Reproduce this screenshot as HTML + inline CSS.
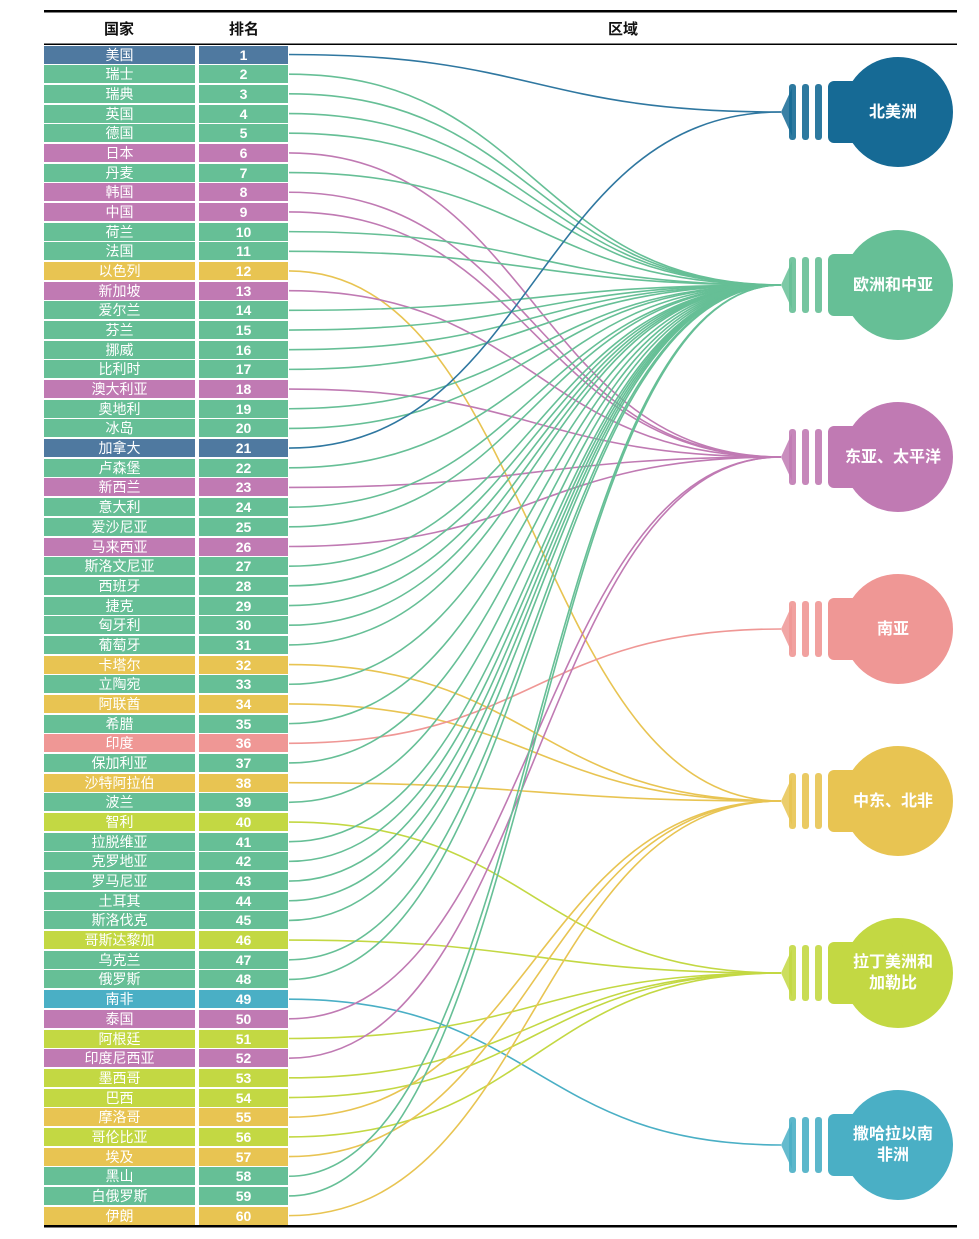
<!DOCTYPE html>
<html><head><meta charset="utf-8"><style>
body{margin:0;width:979px;height:1239px;background:#fff;position:relative;overflow:hidden;font-family:"Liberation Sans","Noto Sans CJK SC",sans-serif}
.h{position:absolute;top:18px;font-size:15px;font-weight:bold;color:#111}
.r{position:absolute;height:18px;line-height:18px;color:#fff;font-size:14px;text-align:center}
#ranks .r{font-weight:bold}
.lb{position:absolute;left:843px;width:100px;text-align:center;color:#fff;font-weight:bold;font-size:16px;line-height:21px}
svg{position:absolute;left:0;top:0}
</style></head><body>
<svg width="979" height="1239" id="s">
<rect x="44" y="10" width="913" height="2.5" fill="#000"/>
<rect x="44" y="43.5" width="913" height="1.5" fill="#000"/>
<rect x="44" y="1225" width="913" height="2.5" fill="#000"/>
<g id="links" fill="none" stroke-width="1.6"></g>
<g id="bulbs"></g>
</svg>
<div class="h" style="left:104px">国家</div>
<div class="h" style="left:229px">排名</div>
<div class="h" style="left:608px">区域</div>
<div id="rows">
<div class="r">美国</div><div class="r">瑞士</div><div class="r">瑞典</div><div class="r">英国</div><div class="r">德国</div>
<div class="r">日本</div><div class="r">丹麦</div><div class="r">韩国</div><div class="r">中国</div><div class="r">荷兰</div>
<div class="r">法国</div><div class="r">以色列</div><div class="r">新加坡</div><div class="r">爱尔兰</div><div class="r">芬兰</div>
<div class="r">挪威</div><div class="r">比利时</div><div class="r">澳大利亚</div><div class="r">奥地利</div><div class="r">冰岛</div>
<div class="r">加拿大</div><div class="r">卢森堡</div><div class="r">新西兰</div><div class="r">意大利</div><div class="r">爱沙尼亚</div>
<div class="r">马来西亚</div><div class="r">斯洛文尼亚</div><div class="r">西班牙</div><div class="r">捷克</div><div class="r">匈牙利</div>
<div class="r">葡萄牙</div><div class="r">卡塔尔</div><div class="r">立陶宛</div><div class="r">阿联酋</div><div class="r">希腊</div>
<div class="r">印度</div><div class="r">保加利亚</div><div class="r">沙特阿拉伯</div><div class="r">波兰</div><div class="r">智利</div>
<div class="r">拉脱维亚</div><div class="r">克罗地亚</div><div class="r">罗马尼亚</div><div class="r">土耳其</div><div class="r">斯洛伐克</div>
<div class="r">哥斯达黎加</div><div class="r">乌克兰</div><div class="r">俄罗斯</div><div class="r">南非</div><div class="r">泰国</div>
<div class="r">阿根廷</div><div class="r">印度尼西亚</div><div class="r">墨西哥</div><div class="r">巴西</div><div class="r">摩洛哥</div>
<div class="r">哥伦比亚</div><div class="r">埃及</div><div class="r">黑山</div><div class="r">白俄罗斯</div><div class="r">伊朗</div>
</div>
<div id="ranks">
<div class="r">1</div><div class="r">2</div><div class="r">3</div><div class="r">4</div><div class="r">5</div><div class="r">6</div><div class="r">7</div><div class="r">8</div><div class="r">9</div><div class="r">10</div>
<div class="r">11</div><div class="r">12</div><div class="r">13</div><div class="r">14</div><div class="r">15</div><div class="r">16</div><div class="r">17</div><div class="r">18</div><div class="r">19</div><div class="r">20</div>
<div class="r">21</div><div class="r">22</div><div class="r">23</div><div class="r">24</div><div class="r">25</div><div class="r">26</div><div class="r">27</div><div class="r">28</div><div class="r">29</div><div class="r">30</div>
<div class="r">31</div><div class="r">32</div><div class="r">33</div><div class="r">34</div><div class="r">35</div><div class="r">36</div><div class="r">37</div><div class="r">38</div><div class="r">39</div><div class="r">40</div>
<div class="r">41</div><div class="r">42</div><div class="r">43</div><div class="r">44</div><div class="r">45</div><div class="r">46</div><div class="r">47</div><div class="r">48</div><div class="r">49</div><div class="r">50</div>
<div class="r">51</div><div class="r">52</div><div class="r">53</div><div class="r">54</div><div class="r">55</div><div class="r">56</div><div class="r">57</div><div class="r">58</div><div class="r">59</div><div class="r">60</div>
</div>
<div class="lb" style="top:102px">北美洲</div>
<div class="lb" style="top:275px">欧洲和中亚</div>
<div class="lb" style="top:447px">东亚、太平洋</div>
<div class="lb" style="top:619px">南亚</div>
<div class="lb" style="top:791px">中东、北非</div>
<div class="lb" style="top:952px">拉丁美洲和<br>加勒比</div>
<div class="lb" style="top:1124px">撒哈拉以南<br>非洲</div>
<script>
var reg="NEEEEAEAAEEMAEEEEAEENEAEEAEEEEEMEMESEMELEEEEELEEFALALLMLMEEM";
var rowC={N:"#4f79a0",E:"#66bf96",A:"#c07ab3",M:"#e8c452",S:"#ef9795",L:"#c3d843",F:"#4aafc5"};
var bulbC={N:"#166a95",E:"#66bf96",A:"#c07ab3",M:"#e8c452",S:"#ef9795",L:"#c3d843",F:"#4aafc5"};
var lineC={N:"#2f77a0",E:"#66bf96",A:"#c07ab3",M:"#e8c452",S:"#ef9795",L:"#c3d843",F:"#4aafc5"};
var cy={N:112,E:285,A:457,S:629,M:801,L:973,F:1145};
var rows=document.querySelectorAll('#rows .r'),ranks=document.querySelectorAll('#ranks .r');
var links='';
for(var i=0;i<60;i++){var t=45.5+i*19.68,c=reg[i];
 rows[i].style.cssText+='left:44px;width:151px;top:'+t+'px;background:'+rowC[c];
 ranks[i].style.cssText+='left:199px;width:89px;top:'+t+'px;background:'+rowC[c];
 var y=t+9,y2=cy[c];
 links+='<path d="M289 '+y+' C535 '+y+' 535 '+y2+' 781 '+y2+'" stroke="'+lineC[c]+'"/>';}
document.getElementById('links').innerHTML=links;
var b='';
for(var k in cy){var c=cy[k],col=bulbC[k];
 b+='<circle cx="898" cy="'+c+'" r="55" fill="'+col+'"/>';
 b+='<rect x="828" y="'+(c-31)+'" width="75" height="62" rx="6" fill="'+col+'"/>';
 b+='<polygon points="781,'+c+' 792,'+(c-24)+' 792,'+(c+24)+'" fill="'+col+'" opacity="0.85"/>';
 [789,802,815].forEach(function(x){b+='<rect x="'+x+'" y="'+(c-28)+'" width="7" height="56" rx="3" fill="'+col+'" opacity="0.9"/>';});}
document.getElementById('bulbs').innerHTML=b;
</script>
</body></html>
